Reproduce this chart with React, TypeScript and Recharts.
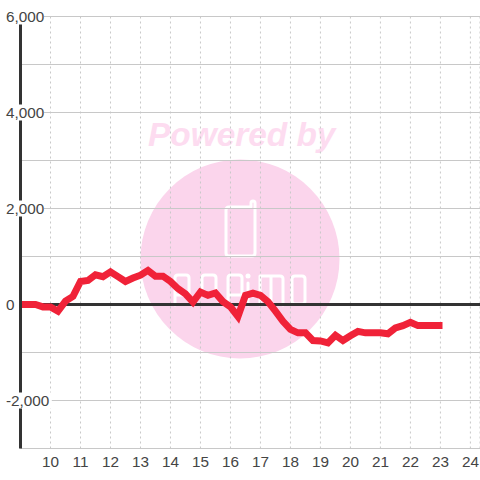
import React from "react";
import { ComposedChart, Line, XAxis, YAxis, CartesianGrid, ReferenceLine } from "recharts";

const xTicks = [10, 11, 12, 13, 14, 15, 16, 17, 18, 19, 20, 21, 22, 23, 24];
const yTicks = [-3000, -2000, -1000, 0, 1000, 2000, 3000, 4000, 5000, 6000];
const hours = [
  9, 9.25, 9.5, 9.75, 10, 10.25, 10.5, 10.75, 11, 11.25, 11.5, 11.75, 12, 12.25, 12.5, 12.75, 13, 13.25, 13.5, 13.75,
  14, 14.25, 14.5, 14.75, 15, 15.25, 15.5, 15.75, 16, 16.25, 16.5, 16.75, 17, 17.25, 17.5, 17.75, 18, 18.25, 18.5,
  18.75, 19, 19.25, 19.5, 19.75, 20, 20.25, 20.5, 20.75, 21, 21.25, 21.5, 21.75, 22, 22.25, 22.5, 22.75, 23.07,
];
const balance = [
  0, 0, 0, -50, -50, -140, 70, 170, 480, 500, 620, 580, 680, 580, 480, 550, 610, 710, 590, 590,
  480, 330, 220, 50, 260, 190, 240, 60, -50, -250, 190, 235, 190, 60, -140, -350, -520, -590, -590,
  -750, -760, -800, -640, -750, -650, -560, -590, -590, -590, -610, -490, -440, -370, -440, -440, -440, -440,
];
const rows = hours.map((h, i) => ({ h, v: balance[i] }));

const fmt = (v: number) => v.toLocaleString("en-US");
const FONT = '"Liberation Sans", Arial, sans-serif';

function YTick(props: any) {
  const { y, payload } = props;
  const v = payload.value;
  if (v % 2000 !== 0) return <g />;
  const label = fmt(v);
  const w = label.length * 7.8;
  return (
    <g>
      <rect x={5} y={y - 8} width={w} height={16} fill="#fff" />
      <text x={6} y={y + 5.5} fontSize={15.3} fontFamily={FONT} fill="#444" textAnchor="start">
        {label}
      </text>
    </g>
  );
}

function XTick(props: any) {
  const { x, payload } = props;
  return (
    <text x={x} y={466.5} fontSize={15.3} fontFamily={FONT} fill="#444" textAnchor="middle">
      {payload.value}
    </text>
  );
}

function Watermark() {
  return (
    <svg width={480} height={480} style={{ position: "absolute", left: 0, top: 0 }}>
      <text x={148} y={146} fontSize={33.4} fontWeight="bold" fontStyle="italic" fontFamily={FONT} fill="#fddcf0">
        Powered by
      </text>
      <circle cx={240} cy={259} r={99.5} fill="#fbd5ec" />
      <g fill="none" stroke="#fff" strokeWidth={3} strokeLinejoin="round" strokeLinecap="round">
        <path d="M229 207 H251 V203 Q251 201 253 201 Q255 201 255 203 V253 Q255 256 252 256 H229 Q226 256 226 253 V210 Q226 207 229 207 Z" />
        <path d="M175 305 V278 Q175 275 178 275 H186 Q189 275 189 278 V295 H175" />
        <path d="M202 295 V278 Q202 275 205 275 H213 Q216 275 216 278 V295 Z" />
        <path d="M228 305 V278 Q228 275 231 275 H239 Q242 275 242 278 V295 H228" />
        <path d="M248 283 V305" />
        <path d="M260 305 V276 H280 Q283 276 283 279 V305 M271 276 V305" />
        <path d="M292 279 Q292 276 295 276 H302 Q305 276 305 279 V301 Q305 304 302 304 H295 Q292 304 292 301 Z" />
      </g>
      <circle cx={248} cy={276} r={2.5} fill="#fff" />
    </svg>
  );
}

export default function App() {
  return (
    <div style={{ position: "absolute", left: 0, top: 0, width: 480, height: 480, background: "#fff" }}>
      <Watermark />
      <div style={{ position: "absolute", left: 0, top: 0 }}>
        <ComposedChart width={480} height={480} data={rows} margin={{ top: 16.5, right: 0, bottom: 0, left: 0.5 }}>
          <CartesianGrid stroke="#c8c8c8" vertical={false} />
          <CartesianGrid stroke="#c8c8c8" horizontal={false} strokeDasharray="2 3" />
          <XAxis
            dataKey="h"
            type="number"
            domain={[9, 24.32]}
            ticks={xTicks}
            interval={0}
            allowDataOverflow
            height={31.5}
            axisLine={false}
            tickLine={false}
            tick={<XTick />}
          />
          <YAxis
            type="number"
            domain={[-3000, 6000]}
            ticks={yTicks}
            interval={0}
            width={20}
            axisLine={{ stroke: "#333", strokeWidth: 3 }}
            tickLine={false}
            tick={<YTick />}
          />
          <ReferenceLine y={0} stroke="#333" strokeWidth={3} />
          <Line
            dataKey="v"
            type="linear"
            stroke="#f02238"
            strokeWidth={7}
            dot={false}
            isAnimationActive={false}
            strokeLinejoin="miter"
          />
        </ComposedChart>
      </div>
    </div>
  );
}
